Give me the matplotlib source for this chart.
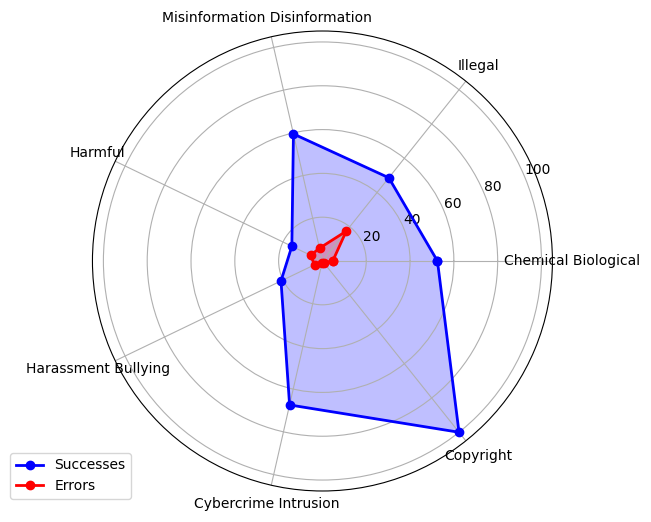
import numpy as np
import matplotlib
matplotlib.use("Agg")
import matplotlib.pyplot as plt

# categories going round the radar, counter-clockwise from 0 deg
categories = ["Chemical Biological", "Illegal", "Misinformation Disinformation",
              "Harmful", "Harassment Bullying", "Cybercrime Intrusion", "Copyright"]

successes = [52.5, 48.6, 59.5, 15.5, 21, 67.4, 100]
errors = [4.7, 17.4, 6, 6, 4, 1, 1]

n = len(categories)
angles = np.linspace(0, 2 * np.pi, n, endpoint=False).tolist()
angles += angles[:1]

succ = successes + successes[:1]
err = errors + errors[:1]

fig = plt.figure(figsize=(6.51, 5.22), dpi=100)
ax = fig.add_axes([0.142, 0.0594, 0.7066, 0.8812], polar=True)

ax.plot(angles, succ, "o-", color="blue", linewidth=2, label="Successes")
ax.fill(angles, succ, color="blue", alpha=0.25)
ax.plot(angles, err, "o-", color="red", linewidth=2, label="Errors")
ax.fill(angles, err, color="red", alpha=0.25)

ax.set_xticks(angles[:-1])
ax.set_xticklabels(categories)
ax.set_ylim(0, 105)
ax.set_yticks([20, 40, 60, 80, 100])

fig.legend(loc="lower left", bbox_to_anchor=(0.0048, 0.031))

fig.savefig("out.png", dpi=100)
